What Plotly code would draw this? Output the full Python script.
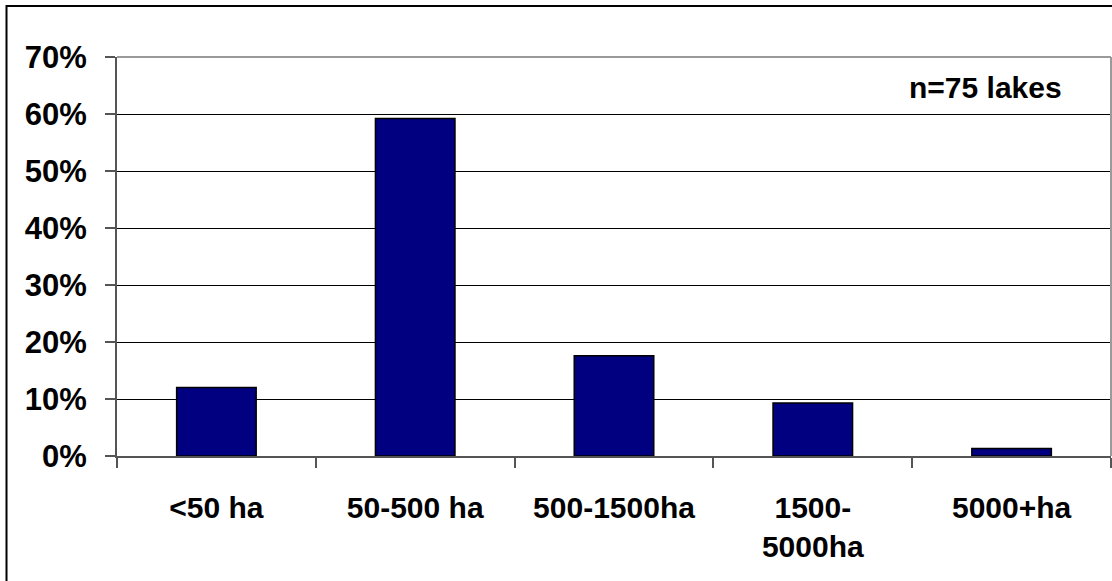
import plotly.graph_objects as go

categories = ["<50 ha", "50-500 ha", "500-1500ha", "1500-<br>5000ha", "5000+ha"]
percent_values = [0.12, 0.592, 0.176, 0.093, 0.013]
y_tick_values = [0, 0.1, 0.2, 0.3, 0.4, 0.5, 0.6, 0.7]
annotation_text = "n=75 lakes"

W, H = 1112, 581
L, R, T, B = 117, 1, 57, 125
pw, ph = W - L - R, H - T - B

def px_x(x):
    return (x - L) / pw

def px_y(y):
    return (H - B - y) / ph

font_family = "Liberation Sans, Arial, sans-serif"

fig = go.Figure(
    go.Bar(
        x=categories,
        y=percent_values,
        marker=dict(color="#000080", line=dict(color="#000000", width=1.5)),
        hoverinfo="skip",
    )
)

fig.update_layout(
    width=W,
    height=H,
    margin=dict(l=L, r=R, t=T, b=B, pad=0),
    paper_bgcolor="white",
    plot_bgcolor="white",
    bargap=0.6,
    showlegend=False,
    font=dict(family=font_family, color="black"),
    annotations=[
        dict(
            text=annotation_text,
            xref="paper", yref="paper",
            x=px_x(985), y=px_y(87),
            xanchor="center", yanchor="middle",
            showarrow=False,
            font=dict(family=font_family, size=30, color="black", weight="bold"),
        )
    ],
    shapes=[
        # plot area border (top/right)
        dict(type="line", xref="paper", yref="paper", x0=0, x1=1, y0=1, y1=1,
             line=dict(color="#9a9a9a", width=2), layer="above"),
        dict(type="line", xref="paper", yref="paper", x0=1, x1=1, y0=0, y1=1,
             line=dict(color="#9a9a9a", width=2), layer="above"),
        # outer chart border
        dict(type="rect", xref="paper", yref="paper",
             x0=px_x(6.5), x1=px_x(1114), y0=px_y(584), y1=px_y(6),
             line=dict(color="black", width=2), fillcolor="rgba(0,0,0,0)", layer="above"),
    ],
)

fig.update_xaxes(
    type="category",
    showline=True, linecolor="#555555", linewidth=1.5,
    ticks="outside", tickson="boundaries", ticklen=10, tickcolor="#555555", tickwidth=1.5,
    tickfont=dict(family=font_family, size=30, color="black", weight="bold"),
    ticklabelstandoff=24,
    showgrid=False,
    fixedrange=True,
)

fig.update_yaxes(
    range=[0, 0.7],
    tickvals=y_tick_values,
    tickformat=".0%",
    showline=True, linecolor="#555555", linewidth=2,
    ticks="outside", ticklen=10, tickcolor="#555555", tickwidth=1.5,
    tickfont=dict(family=font_family, size=31, color="black", weight="bold"),
    ticklabelstandoff=12,
    showgrid=True, gridcolor="black", gridwidth=1,
    zeroline=False,
    fixedrange=True,
)

fig.write_html(
    "out.html",
    config={"displayModeBar": False},
    post_script="document.body.style.margin='0';",
)
